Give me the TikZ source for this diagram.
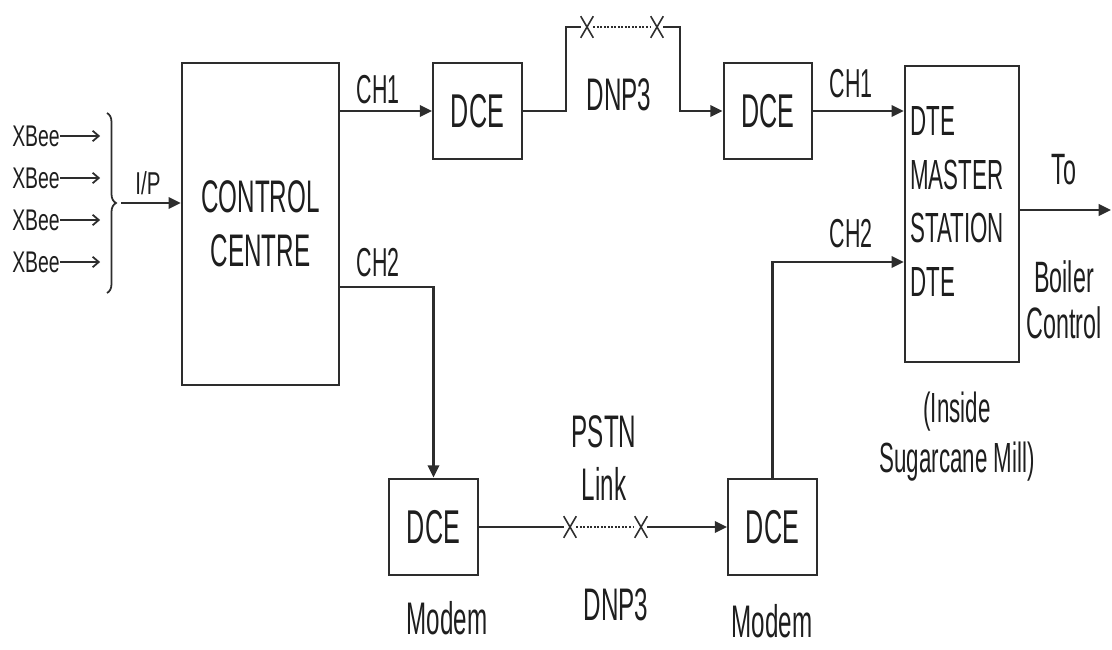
\documentclass[tikz,border=0pt]{standalone}
\usepackage{fontspec}
\setmainfont{Liberation Sans}[FakeStretch=0.53]
\newfontfamily\xbfont{Liberation Sans}[FakeStretch=0.65]
\usepackage{tikz}
\usetikzlibrary{arrows.meta,shapes.misc,calc,decorations.pathreplacing}
\definecolor{linecol}{RGB}{45,45,45}
\definecolor{txtcol}{RGB}{30,30,30}

\begin{document}
\begin{tikzpicture}[x=0.02cm, y=-0.02cm,
  blk/.style={draw=linecol, line width=1.3pt, inner sep=0pt, align=center, text=txtcol,
              font=\fontsize{26}{31}\selectfont},
  dce/.style={blk, minimum width=1.77cm, minimum height=1.93cm, font=\fontsize{27}{30}\selectfont},
  lbl/.style={inner sep=0pt, align=center, text=txtcol, font=\fontsize{#1}{30}\selectfont},
  lbl/.default=25,
  xb/.style={inner sep=0pt, text=txtcol, font=\xbfont\fontsize{17}{18}\selectfont},
  wire/.style={draw=linecol, line width=1.3pt},
  arr/.style={wire, -{Triangle[length=7pt,width=6.5pt]}},
  xarr/.style={draw=linecol, line width=1pt, -{Straight Barb[length=3.5pt,width=6pt]}},
  xmark/.style={cross out, draw=linecol, line width=0.9pt, inner sep=0pt,
                minimum width=0.22cm, minimum height=0.4cm},
  link/.style={draw=linecol, line width=1pt, densely dotted},
]
\useasboundingbox (0,0) rectangle (1112,649);

% blocks
\node[blk, minimum width=3.14cm, minimum height=6.44cm] (cc) at (260.5,224) {CONTROL\\CENTRE};
\node[dce] (dce1) at (477.5,111) {DCE};
\node[dce] (dce2) at (768,111) {DCE};
\node[dce] (dce3) at (433.5,527) {DCE};
\node[dce] (dce4) at (772.5,527) {DCE};
\node[blk, minimum width=2.28cm, minimum height=5.92cm] (mst) at (962,214) {};
\node[lbl=24, anchor=west, align=left, font=\fontsize{24}{30.5}\selectfont] (msttxt) at (910,201.5)
    {DTE\\MASTER\\STATION\\DTE};

% inputs
\foreach \i/\y in {1/136,2/178,3/220,4/262}{
  \node[xb] (xb\i) at (36,\y) {XBee};
  \draw[xarr] (xb\i.east) -- ++(40,0);
}
\draw[draw=linecol, line width=1pt, decorate, decoration={brace, amplitude=0.18cm}]
    (107,113) -- (107,293);
\coordinate (brtip) at (121,203);
\draw[arr] (brtip) -- (brtip -| cc.west);
\node[xb, font=\xbfont\fontsize{18}{20}\selectfont] (ip) at (148,183) {I/P};

% channel 1 (DNP3)
\node[xmark] (tx1) at (587,27) {};
\node[xmark] (tx2) at (657,27) {};
\coordinate (tl) at (566,27);
\coordinate (tr) at (680,27);
\draw[arr] (cc.east |- dce1.west) -- (dce1.west);
\draw[wire] (dce1.east) -| (tl) -- (tx1.west);
\draw[link] (tx1.east) -- (tx2.west);
\draw[arr] (tx2.east) -- (tr) |- (dce2.west);
\draw[arr] (dce2.east) -- (dce2.east -| mst.west);

% channel 2 (PSTN)
\node[xmark] (bx1) at (570,527) {};
\node[xmark] (bx2) at (641,527) {};
\draw[arr] ($(cc.east)+(0,63)$) -| (dce3.north);
\draw[wire] (dce3.east) -- (bx1.west);
\draw[link] (bx1.east) -- (bx2.west);
\draw[arr] (bx2.east) -- (dce4.west);
\draw[arr] (dce4.north) |- ($(mst.west)+(0,48)$);

% output
\coordinate (out) at (1111,210);
\draw[arr] (mst.east |- out) -- (out);

% labels
\node[lbl=23] (ch1a) at (378,90)  {CH1};
\node[lbl=23] (ch2a) at (378,263) {CH2};
\node[lbl=23] (ch1b) at (851,84)  {CH1};
\node[lbl=23] (ch2b) at (851,234) {CH2};
\node[lbl=26] (dnpa) at (619,95)  {DNP3};
\node[lbl=26, font=\fontsize{26}{30.5}\selectfont] (pstn) at (604,458) {PSTN\\Link};
\node[lbl=26] (dnpb) at (616,605) {DNP3};
\node[lbl=26] (moda) at (447,618) {Modem};
\node[lbl=26] (modb) at (772,621) {Modem};
\node[lbl] (to) at (1064,170) {To};
\node[lbl, font=\fontsize{25}{26.5}\selectfont] (boil) at (1064,300) {Boiler\\Control};
\node[lbl=24, font=\fontsize{24}{28.5}\selectfont] (mill) at (957,437) {(Inside\\Sugarcane Mill)};
\end{tikzpicture}
\end{document}
